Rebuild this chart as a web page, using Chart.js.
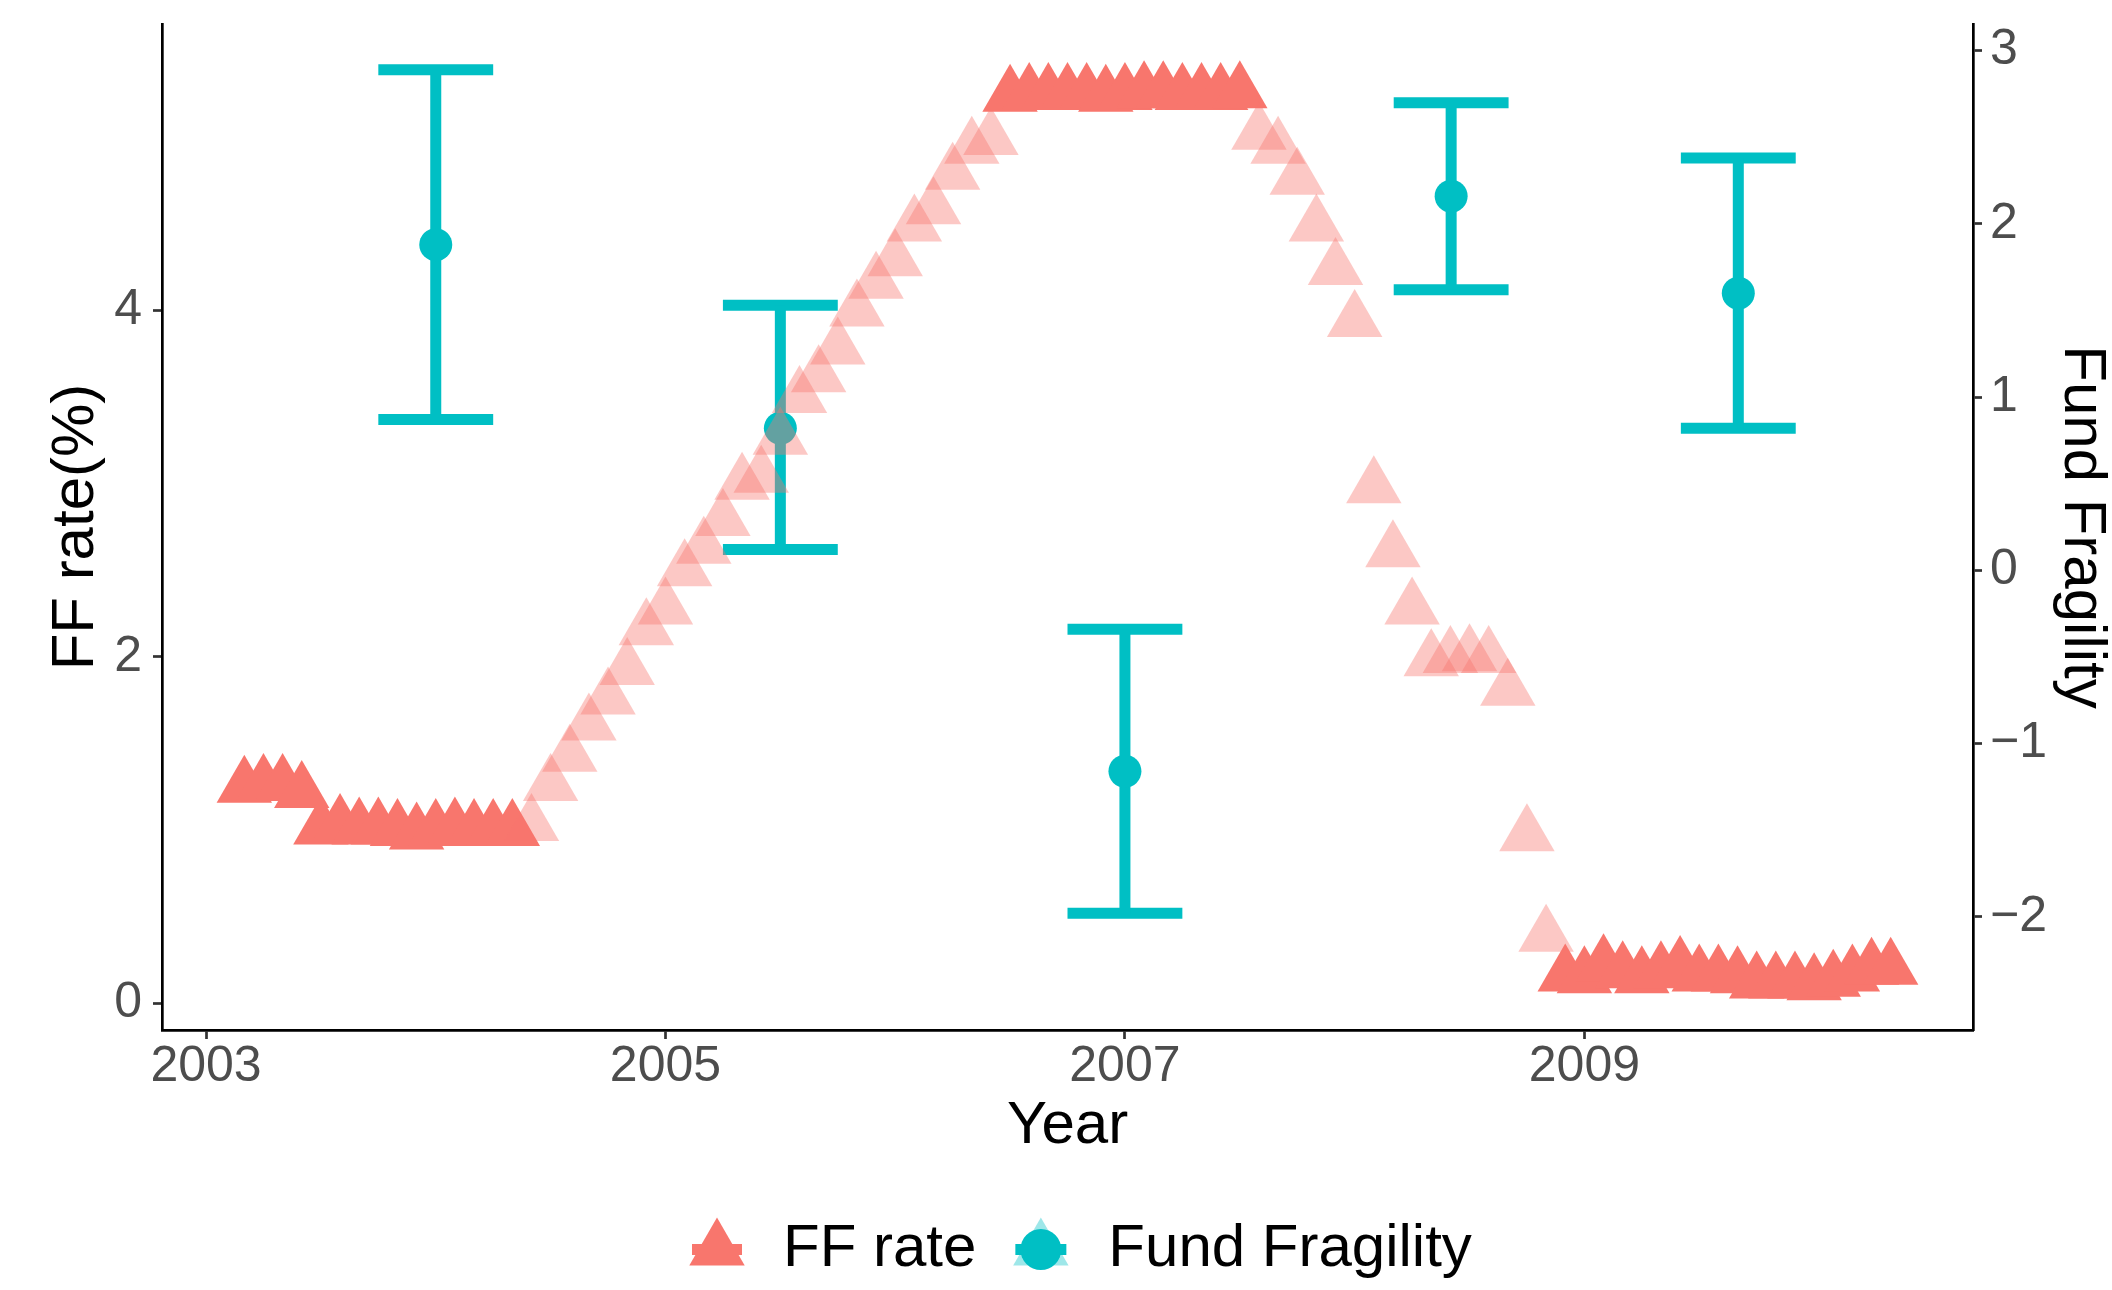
<!DOCTYPE html>
<html>
<head>
<meta charset="utf-8">
<title>FF rate and Fund Fragility</title>
<script src="https://cdn.jsdelivr.net/npm/chart.js@4.4.1/dist/chart.umd.min.js"></script>
<style>
  html, body { margin: 0; padding: 0; background: #ffffff; }
  #wrap { width: 2112px; height: 1290px; position: relative; }
  canvas { display: block; }
</style>
</head>
<body>
<div id="wrap"><canvas id="chart" width="2112" height="1290"></canvas></div>
<script>
// Effective federal funds rate (%), monthly, starting March 2003
const ffStart = { year: 2003, month: 3 };
const ffRate = [
  1.25, 1.26, 1.26, 1.22, 1.01, 1.03, 1.01, 1.01, 1.00, 0.98,             // 2003
  1.00, 1.01, 1.00, 1.00, 1.00, 1.03, 1.26, 1.43, 1.61, 1.76, 1.93, 2.16, // 2004
  2.28, 2.50, 2.63, 2.79, 3.00, 3.04, 3.26, 3.50, 3.62, 3.78, 4.00, 4.16, // 2005
  4.29, 4.49, 4.59, 4.79, 4.94, 4.99, 5.24, 5.25, 5.25, 5.25, 5.25, 5.24, // 2006
  5.25, 5.26, 5.26, 5.25, 5.25, 5.25, 5.26, 5.02, 4.94, 4.76, 4.49, 4.24, // 2007
  3.94, 2.98, 2.61, 2.28, 1.98, 2.00, 2.01, 2.00, 1.81, 0.97, 0.39, 0.16, // 2008
  0.15, 0.22, 0.18, 0.15, 0.18, 0.21, 0.16, 0.16, 0.15, 0.12, 0.12, 0.12, // 2009
  0.11, 0.13, 0.16, 0.20, 0.20                                            // 2010
];
// 1 = month inside a tightening / easing cycle, 0 = rate held steady
const ffMoving = [
  0, 0, 0, 0, 0, 0, 0, 0, 0, 0,
  0, 0, 0, 0, 0, 1, 1, 1, 1, 1, 1, 1,
  1, 1, 1, 1, 1, 1, 1, 1, 1, 1, 1, 1,
  1, 1, 1, 1, 1, 1, 0, 0, 0, 0, 0, 0,
  0, 0, 0, 0, 0, 0, 0, 1, 1, 1, 1, 1,
  1, 1, 1, 1, 1, 1, 1, 1, 1, 1, 1, 0,
  0, 0, 0, 0, 0, 0, 0, 0, 0, 0, 0, 0,
  0, 0, 0, 0, 0
];

// Fund fragility estimates with their confidence bounds
const fragYear = [2004.0, 2005.5, 2007.0, 2008.42, 2009.67];
const fragMean = [1.88, 0.82, -1.16, 2.16, 1.60];
const fragLow  = [0.87, 0.12, -1.98, 1.62, 0.82];
const fragHigh = [2.89, 1.53, -0.34, 2.70, 2.38];

// Axis ticks
const yearTicks = [2003, 2005, 2007, 2009];
const rateTicks = [0, 2, 4];
const fragTicks = [-2, -1, 0, 1, 2, 3];

// Secondary axis transform: fragility = rate - fragShift
const fragShift = 2.5;
const capHalfWidth = 0.25;

const SALMON = '#F8766D';
const SALMON_FADED = 'rgba(248,118,109,0.4)';
const TEAL = '#00BFC4';
const TEAL_FADED = 'rgba(0,191,196,0.38)';
const FONT = '"Liberation Sans", Arial, Helvetica, sans-serif';

// Monthly points
const ffPoints = ffRate.map((v, i) => ({
  x: ffStart.year + (ffStart.month - 1 + i) / 12,
  y: v
}));

// Error bar stems and caps (gaps separate the bars)
const stemPoints = [];
const capPoints = [];
fragYear.forEach((yr, i) => {
  stemPoints.push({ x: yr, y: fragLow[i] }, { x: yr, y: fragHigh[i] }, { x: yr, y: null });
  capPoints.push({ x: yr - capHalfWidth, y: fragHigh[i] }, { x: yr + capHalfWidth, y: fragHigh[i] }, { x: yr, y: null });
  capPoints.push({ x: yr - capHalfWidth, y: fragLow[i] }, { x: yr + capHalfWidth, y: fragLow[i] }, { x: yr, y: null });
});
const fragPoints = fragYear.map((yr, i) => ({ x: yr, y: fragMean[i] }));

// Data ranges with 5% expansion on each side
function expand(lo, hi) {
  const d = (hi - lo) * 0.05;
  return [lo - d, hi + d];
}
const xs = ffPoints.map(p => p.x).concat(fragYear.map(v => v - capHalfWidth), fragYear.map(v => v + capHalfWidth));
const [xMin, xMax] = expand(Math.min(...xs), Math.max(...xs));
const ysLeft = ffRate.concat(fragLow.map(v => v + fragShift), fragHigh.map(v => v + fragShift));
const [yMin, yMax] = expand(Math.min(...ysLeft), Math.max(...ysLeft));

const tickStyle = { font: { family: FONT, size: 50, lineHeight: 1 }, color: '#4D4D4D' };
const gridStyle = { drawOnChartArea: false, drawTicks: true, tickLength: 9, tickColor: '#333333', tickWidth: 2.7 };
const borderStyle = { display: true, color: '#000000', width: 2.7 };
const titleFont = { family: FONT, size: 60, lineHeight: 1 };

function fixSize(prop, value) {
  return function (scale) {
    scale[prop] = value;
    scale.paddingTop = 0; scale.paddingBottom = 0;
    scale.paddingLeft = 0; scale.paddingRight = 0;
  };
}
function minusSign(v) {
  return v < 0 ? '\u2212' + Math.abs(v) : String(v);
}

// Legend drawn below the plot
const keyLegend = {
  id: 'keyLegend',
  afterDraw(chart) {
    const ctx = chart.ctx;
    const cy = 1249.5;
    const tri = (x, y, r, color) => {
      ctx.beginPath();
      ctx.moveTo(x, y - r);
      ctx.lineTo(x + Math.sin(2 * Math.PI / 3) * r, y + r / 2);
      ctx.lineTo(x - Math.sin(2 * Math.PI / 3) * r, y + r / 2);
      ctx.closePath();
      ctx.fillStyle = color;
      ctx.fill();
    };
    ctx.save();
    ctx.font = '60px ' + FONT;
    ctx.textBaseline = 'middle';
    ctx.textAlign = 'left';

    let x = 717;
    const label1 = chart.data.datasets[0].label;
    ctx.fillStyle = SALMON;
    ctx.fillRect(x - 25, cy - 5.5, 50, 11);
    tri(x, cy, 32, SALMON);
    ctx.fillStyle = '#000000';
    ctx.fillText(label1, x + 66, cy);

    x = x + 66 + ctx.measureText(label1).width + 64.5;
    const label2 = chart.data.datasets[3].label;
    tri(x, cy, 32, TEAL_FADED);
    ctx.fillStyle = TEAL;
    ctx.fillRect(x - 25.5, cy - 5.5, 51, 11);
    ctx.beginPath();
    ctx.arc(x, cy, 20.5, 0, Math.PI * 2);
    ctx.fill();
    ctx.fillStyle = '#000000';
    ctx.fillText(label2, x + 67.5, cy);
    ctx.restore();
  }
};

new Chart(document.getElementById('chart'), {
  type: 'scatter',
  data: {
    datasets: [
      {
        label: 'FF rate',
        type: 'scatter',
        data: ffPoints,
        yAxisID: 'y',
        pointStyle: 'triangle',
        pointRadius: 32,
        pointHoverRadius: 32,
        borderWidth: 0,
        backgroundColor: ctx => (ffMoving[ctx.dataIndex] ? SALMON_FADED : SALMON),
        order: 0
      },
      {
        label: 'stems',
        type: 'line',
        data: stemPoints,
        yAxisID: 'y2',
        borderColor: TEAL,
        borderWidth: 11,
        borderCapStyle: 'butt',
        pointRadius: 0,
        spanGaps: false,
        tension: 0,
        fill: false,
        order: 2
      },
      {
        label: 'caps',
        type: 'line',
        data: capPoints,
        yAxisID: 'y2',
        borderColor: TEAL,
        borderWidth: 11,
        borderCapStyle: 'butt',
        pointRadius: 0,
        spanGaps: false,
        tension: 0,
        fill: false,
        order: 2
      },
      {
        label: 'Fund Fragility',
        type: 'scatter',
        data: fragPoints,
        yAxisID: 'y2',
        pointStyle: 'circle',
        pointRadius: 16.5,
        pointHoverRadius: 16.5,
        borderWidth: 0,
        backgroundColor: TEAL,
        order: 1
      }
    ]
  },
  options: {
    responsive: false,
    animation: false,
    events: [],
    devicePixelRatio: 1,
    layout: { autoPadding: false, padding: { top: 24, left: 0, right: 0, bottom: 0 } },
    plugins: {
      legend: { display: false },
      title: { display: false },
      tooltip: { enabled: false }
    },
    scales: {
      x: {
        type: 'linear',
        position: 'bottom',
        min: xMin,
        max: xMax,
        afterBuildTicks: s => { s.ticks = yearTicks.map(v => ({ value: v })); },
        afterFit: fixSize('height', 260),
        ticks: Object.assign({ callback: v => String(v), padding: 3, maxRotation: 0, autoSkip: false }, tickStyle),
        grid: gridStyle,
        border: borderStyle,
        title: { display: true, text: 'Year', color: '#000000', font: titleFont, padding: { top: 0, bottom: 134 } }
      },
      y: {
        type: 'linear',
        position: 'left',
        min: yMin,
        max: yMax,
        afterBuildTicks: s => { s.ticks = rateTicks.map(v => ({ value: v })); },
        afterFit: fixSize('width', 162),
        ticks: Object.assign({ callback: v => String(v), padding: 11 }, tickStyle),
        grid: gridStyle,
        border: borderStyle,
        title: { display: true, text: 'FF rate(%)', color: '#000000', font: titleFont, padding: { top: 46, bottom: 0 } }
      },
      y2: {
        type: 'linear',
        position: 'right',
        min: yMin - fragShift,
        max: yMax - fragShift,
        afterBuildTicks: s => { s.ticks = fragTicks.map(v => ({ value: v })); },
        afterFit: fixSize('width', 139),
        ticks: Object.assign({ callback: v => minusSign(v), padding: 8 }, tickStyle),
        grid: gridStyle,
        border: borderStyle,
        title: { display: true, text: 'Fund Fragility', color: '#000000', font: titleFont, padding: { top: 0, bottom: 0 } }
      }
    }
  },
  plugins: [keyLegend]
});
</script>
</body>
</html>
